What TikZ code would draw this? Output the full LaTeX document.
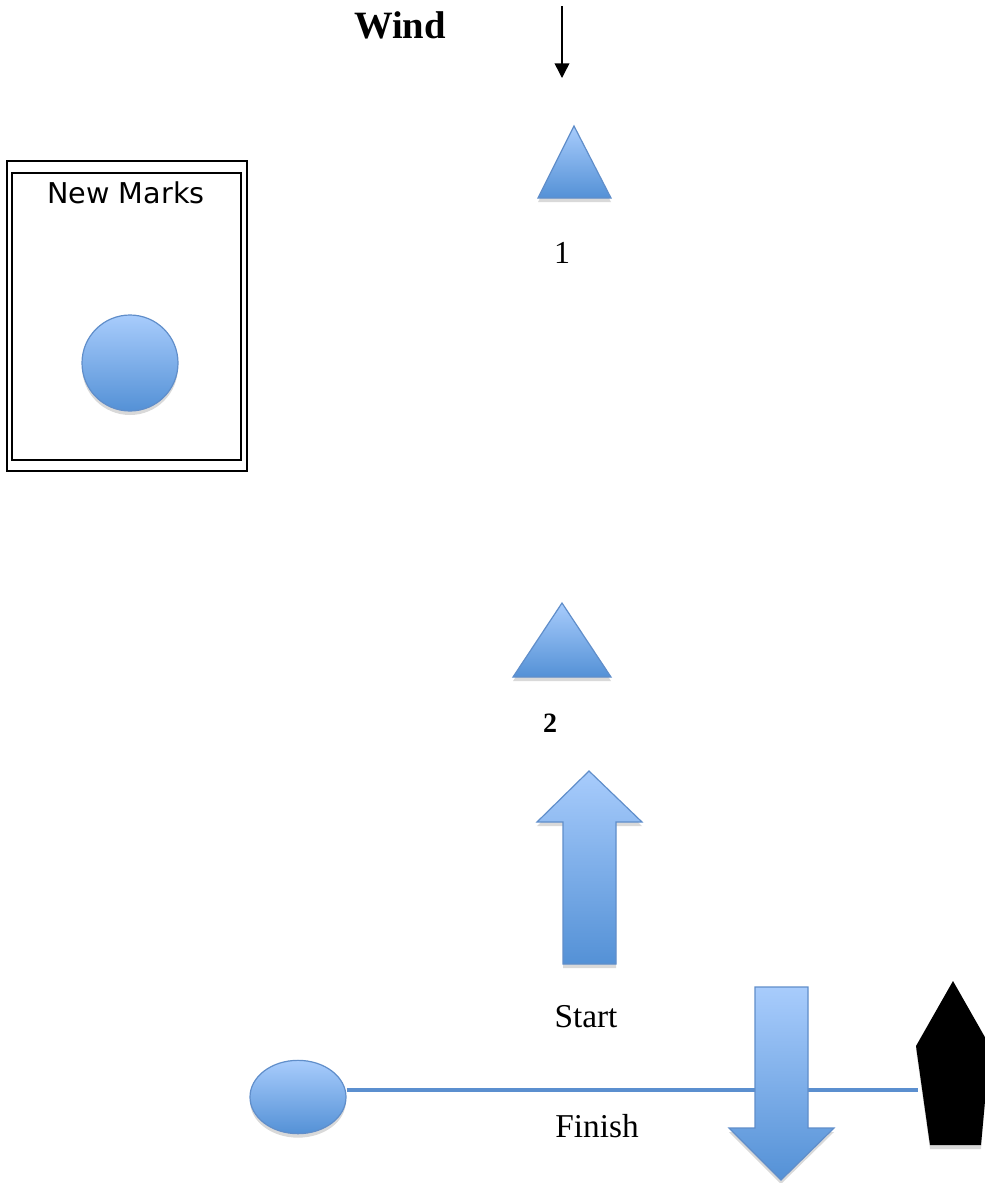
\documentclass[tikz,border=0pt]{standalone}
\usepackage{fontspec}
\setmainfont{Liberation Serif}
\newfontfamily\marksfont{DejaVu Sans}
\usepackage{xcolor}
\usepackage{tikz}
\usetikzlibrary{arrows.meta,positioning,shapes.geometric,shadows}

\definecolor{buoytop}{RGB}{168,204,252}
\definecolor{buoybot}{RGB}{84,145,214}
\definecolor{buoyedge}{RGB}{96,142,202}
\definecolor{lineblue}{RGB}{91,143,207}

\begin{document}
\begin{tikzpicture}[x=0.75pt, y=-0.75pt,
  buoy/.style={draw=buoyedge, line width=0.9pt, top color=buoytop, bottom color=buoybot,
    drop shadow={shadow xshift=0pt, shadow yshift=-3pt, opacity=0.3}},
  blockarrow/.style={buoy, line join=miter},
  finline/.style={draw=lineblue, line width=3pt},
  windarrow/.style={-{Triangle[length=11pt, width=11pt]}, line width=1.1pt},
  lbl/.style={anchor=base, inner sep=0pt},
]
\useasboundingbox (0,0) rectangle (985,1183);

% wind
\node[lbl, font=\fontsize{29}{32}\selectfont\bfseries] (wind) at (400,38) {Wind};
\coordinate (windtop) at (562,6);
\coordinate (windtip) at (562,78);
\draw[windarrow] (windtop) -- (windtip);

% new marks box
\draw[line width=1.6pt] (7,161) rectangle (247,471);
\draw[line width=1pt] (12,173) rectangle (241,460);
\node[lbl, font=\marksfont\fontsize{21.5}{24}\selectfont] (marks) at (126,203) {New Marks};
\node[buoy, circle, minimum size=72pt, inner sep=0pt] (newbuoy) at (130,363) {};

% mark 1
\coordinate (tri1) at (574,126);
\path[buoy] (tri1) -- (611,198) -- (538,198) -- cycle;
\node[lbl, font=\fontsize{24}{27}\selectfont] (lab1) at (562,263) {1};

% mark 2
\coordinate (tri2) at (562,603);
\path[buoy] (tri2) -- (611,677) -- (513,677) -- cycle;
\node[lbl, font=\fontsize{21}{24}\selectfont\bfseries] (lab2) at (550,732) {2};

% start arrow
\path[blockarrow] (589,771) -- (642,822) -- (616,822) -- (616,964) -- (563,964)
  -- (563,822) -- (537,822) -- cycle;
\node[lbl, font=\fontsize{25}{28}\selectfont] (start) at (586,1027) {Start};

% start / finish line
\node[buoy, ellipse, minimum width=72pt, minimum height=55pt, inner sep=0pt] (pin) at (298,1097) {};
\coordinate (boat) at (918,1090);
\draw[finline] (pin.east |- boat) -- (boat);

% finish arrow
\path[blockarrow] (755,987) -- (808,987) -- (808,1128) -- (834,1128) -- (781,1180)
  -- (729,1128) -- (755,1128) -- cycle;
\node[lbl, font=\fontsize{25}{28}\selectfont] (finish) at (597,1137) {Finish};

% committee boat
\fill[black, drop shadow={shadow xshift=0pt, shadow yshift=-3pt, opacity=0.3}]
  (953,981) -- (990,1046) -- (981,1145) -- (930,1145) -- (916,1046) -- cycle;

\end{tikzpicture}
\end{document}
